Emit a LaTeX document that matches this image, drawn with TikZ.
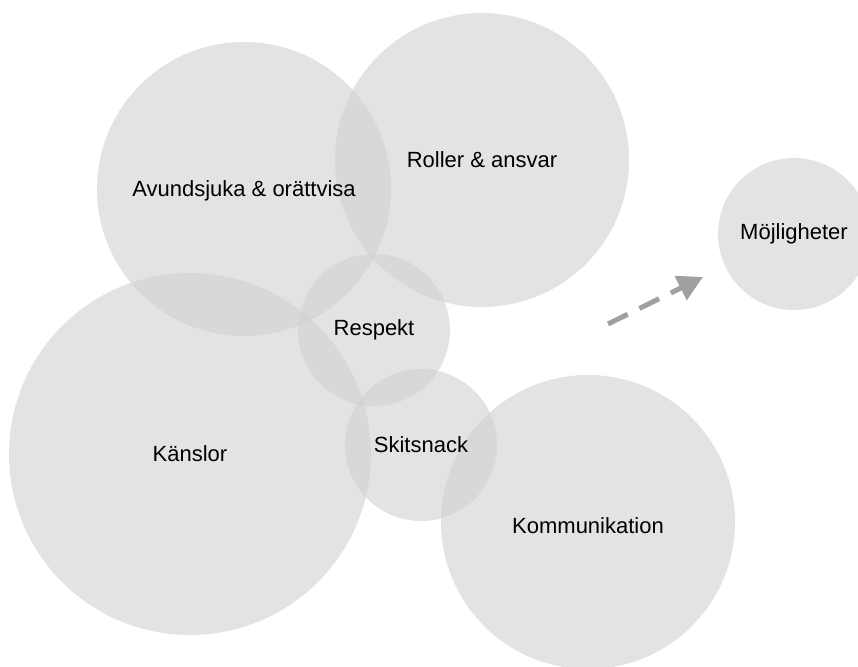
\documentclass[tikz,border=0pt]{standalone}
\usepackage{fontspec}
\setmainfont{Liberation Sans}
\usetikzlibrary{arrows.meta}
\definecolor{bubble}{HTML}{D0D0D0}
\definecolor{arrowgray}{HTML}{A0A0A0}
\begin{document}
\begin{tikzpicture}[x=1pt,y=-1pt,
  bubble/.style={circle,fill=bubble,fill opacity=0.6,inner sep=0pt},
  lbl/.style={font=\fontsize{22}{25}\selectfont,text=black,inner sep=0pt},
  ]
\useasboundingbox (0,0) rectangle (858,666);
\node[bubble,minimum size=294pt] (avund) at (244,189) {};
\node[bubble,minimum size=294pt] (roller) at (482,160) {};
\node[bubble,minimum size=362pt] (kanslor) at (190,454) {};
\node[bubble,minimum size=152pt] (respekt) at (374,330) {};
\node[bubble,minimum size=152pt] (skit) at (421,445) {};
\node[bubble,minimum size=294pt] (komm) at (588,522) {};
\node[bubble,minimum size=152pt] (moj) at (794,234) {};
\node[lbl] (avundT) at ([yshift=-2pt]avund.center) {Avundsjuka \& orättvisa};
\node[lbl] (rollerT) at (roller.center) {Roller \& ansvar};
\node[lbl] (kanslorT) at (kanslor.center) {Känslor};
\node[lbl] (respektT) at (respekt.center) {Respekt};
\node[lbl] (skitT) at (skit.center) {Skitsnack};
\node[lbl] (kommT) at ([yshift=-4pt]komm.center) {Kommunikation};
\node[lbl] (mojT) at (moj.center) {Möjligheter};
\coordinate (arrstart) at (608,324);
\coordinate (arrend) at (703,277);
\draw[arrowgray,line width=5pt,dash pattern=on 22pt off 13pt,
  -{Triangle[length=25pt,width=26pt]}] (arrstart) -- (arrend);
\end{tikzpicture}
\end{document}
